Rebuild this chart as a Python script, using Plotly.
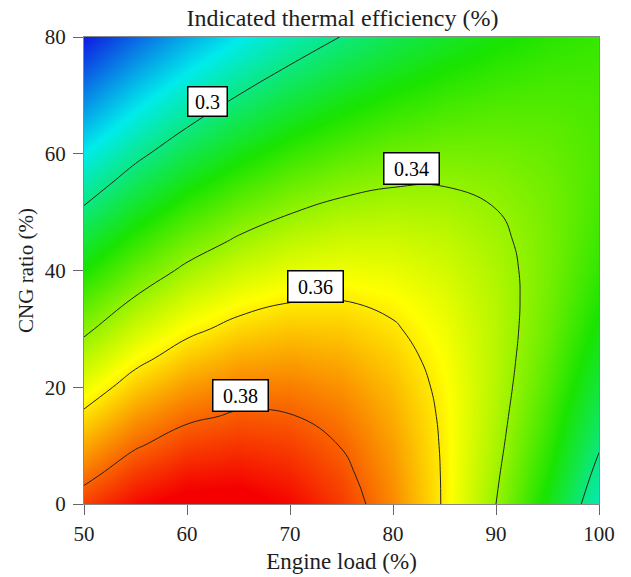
import plotly.graph_objects as go

# Engine load (%) and CNG ratio (%) grid
engine_load = [50, 55, 60, 65, 70, 75, 80, 85, 90, 95, 100]
cng_ratio = [0, 5, 10, 15, 20, 25, 30, 35, 40, 45, 50, 55, 60, 65, 70, 75, 80]

# Indicated thermal efficiency values (rows = CNG ratio, columns = engine load)
ite = [
    [0.3847,0.3927,0.3968,0.3969,0.3931,0.3854,0.3740,0.3589,0.3400,0.3173,0.2909],
    [0.3773,0.3860,0.3908,0.3918,0.3891,0.3827,0.3726,0.3589,0.3416,0.3207,0.2961],
    [0.3697,0.3791,0.3847,0.3866,0.3849,0.3797,0.3710,0.3587,0.3431,0.3239,0.3012],
    [0.3620,0.3720,0.3783,0.3811,0.3805,0.3764,0.3690,0.3583,0.3442,0.3268,0.3060],
    [0.3541,0.3647,0.3717,0.3754,0.3758,0.3729,0.3668,0.3575,0.3450,0.3294,0.3105],
    [0.3460,0.3571,0.3648,0.3693,0.3707,0.3689,0.3641,0.3563,0.3454,0.3315,0.3145],
    [0.3377,0.3492,0.3576,0.3629,0.3653,0.3646,0.3611,0.3547,0.3454,0.3332,0.3181],
    [0.3291,0.3411,0.3501,0.3562,0.3594,0.3599,0.3576,0.3526,0.3449,0.3344,0.3212],
    [0.3203,0.3327,0.3423,0.3491,0.3532,0.3547,0.3537,0.3501,0.3439,0.3351,0.3237],
    [0.3113,0.3240,0.3341,0.3416,0.3466,0.3492,0.3493,0.3470,0.3423,0.3353,0.3257],
    [0.3021,0.3152,0.3257,0.3338,0.3396,0.3432,0.3444,0.3435,0.3403,0.3349,0.3272],
    [0.2928,0.3061,0.3170,0.3258,0.3323,0.3368,0.3392,0.3395,0.3378,0.3340,0.3280],
    [0.2834,0.2969,0.3082,0.3174,0.3247,0.3300,0.3335,0.3350,0.3347,0.3325,0.3284],
    [0.2740,0.2876,0.2991,0.3089,0.3168,0.3229,0.3274,0.3302,0.3312,0.3306,0.3282],
    [0.2646,0.2782,0.2900,0.3001,0.3086,0.3156,0.3210,0.3249,0.3273,0.3282,0.3275],
    [0.2554,0.2689,0.2809,0.2913,0.3004,0.3080,0.3143,0.3194,0.3230,0.3254,0.3263],
    [0.2464,0.2598,0.2718,0.2825,0.2920,0.3003,0.3075,0.3135,0.3184,0.3222,0.3247],
]

# Contour label texts and their positions (engine load, CNG ratio)
label_text = ["0.3", "0.34", "0.36", "0.38"]
label_x = [62.0, 81.8, 72.5, 65.2]
label_y = [69.0, 57.5, 37.3, 18.6]

x_ticks = [50, 60, 70, 80, 90, 100]
y_ticks = [0, 20, 40, 60, 80]

FONT = "Liberation Serif"
TXT = "#1e1e1e"
colorscale = [
    [0.0, "rgb(15,25,225)"],
    [0.25, "rgb(0,235,235)"],
    [0.5, "rgb(25,228,0)"],
    [0.75, "rgb(255,255,0)"],
    [1.0, "rgb(245,0,0)"],
]

fig = go.Figure()
fig.add_trace(go.Heatmap(
    x=engine_load, y=cng_ratio, z=ite, zsmooth="best",
    zmin=0.246, zmax=0.394, colorscale=colorscale, showscale=False,
    hoverinfo="skip",
))
fig.add_trace(go.Contour(
    x=engine_load, y=cng_ratio, z=ite,
    contours=dict(coloring="none", start=0.34, end=0.38, size=0.02),
    line=dict(color="#222", width=1, smoothing=1.3),
    showscale=False, hoverinfo="skip",
))
fig.add_trace(go.Contour(
    x=engine_load, y=cng_ratio, z=ite,
    contours=dict(coloring="none", start=0.30, end=0.30, size=0.01),
    line=dict(color="#222", width=1, smoothing=1.3),
    showscale=False, hoverinfo="skip",
))

for t, lx, ly in zip(label_text, label_x, label_y):
    fig.add_annotation(
        x=lx, y=ly, text=t, showarrow=False,
        font=dict(family=FONT, size=20, color="black"),
        bgcolor="white", bordercolor="black", borderwidth=1.5,
        borderpad=0, width=(38 if len(t) == 3 else 54), height=(28 if len(t) == 3 else 30),
    )

fig.update_layout(
    width=631, height=577,
    margin=dict(l=84, r=32, t=37, b=73),
    paper_bgcolor="white", plot_bgcolor="white",
    font=dict(family=FONT, size=21, color=TXT),
    title=dict(text="Indicated thermal efficiency (%)", x=0.5427, xanchor="center",
               y=1 - 17.5 / 577, yanchor="middle", font=dict(family=FONT, size=24, color=TXT)),
    showlegend=False,
)
fig.update_xaxes(
    range=[50, 100], tickvals=x_ticks, ticks="outside", ticklen=10, tickcolor="#666",
    showline=True, linecolor="#888", linewidth=1, mirror=True, showgrid=False, zeroline=False,
    tickfont=dict(family=FONT, size=21, color=TXT), ticklabelstandoff=1, automargin=False,
    title=dict(text="Engine load (%)", font=dict(family=FONT, size=23, color=TXT), standoff=7),
)
fig.update_yaxes(
    range=[0, 80], tickvals=y_ticks, ticks="outside", ticklen=10, tickcolor="#666",
    showline=True, linecolor="#888", linewidth=1, mirror=True, showgrid=False, zeroline=False,
    tickfont=dict(family=FONT, size=21, color=TXT), ticklabelstandoff=3, automargin=False,
    title=dict(text="CNG ratio (%)", font=dict(family=FONT, size=21, color=TXT), standoff=5),
)
fig.write_html("out.html")
